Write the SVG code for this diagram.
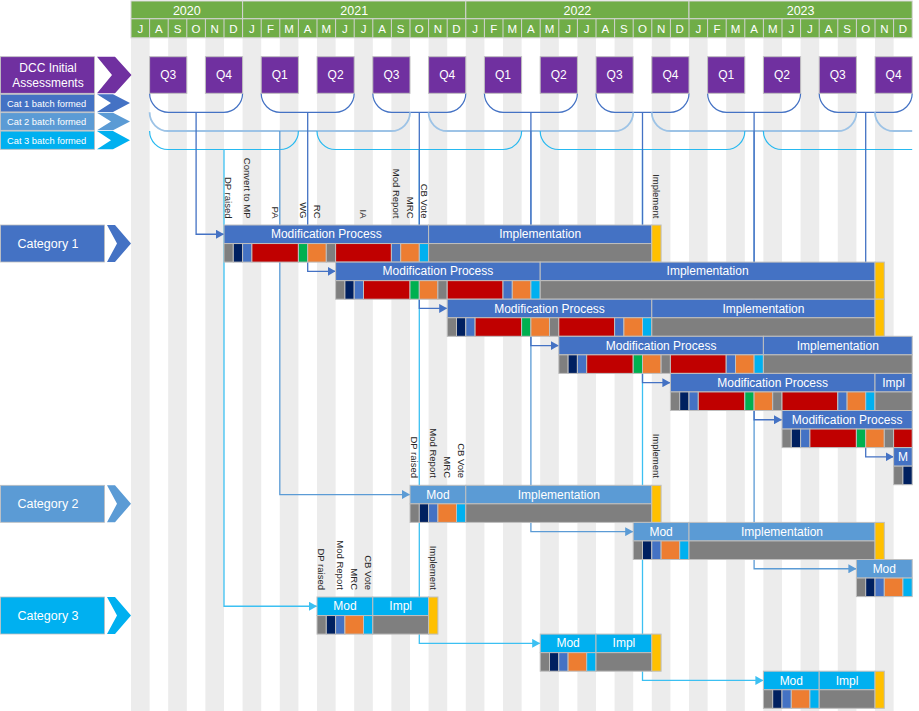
<svg xmlns="http://www.w3.org/2000/svg" width="919" height="711" viewBox="0 0 919 711">
<style>
text{font-family:"Liberation Sans",Arial,sans-serif}
.st{fill:#ececec}
.hd{fill:#70AD47;stroke:#d4d4d4;stroke-width:1}
.ht{fill:#fff;font-size:11.5px;text-anchor:middle}
.yt{fill:#fff;font-size:12.5px;text-anchor:middle}
.q{fill:#7030A0;stroke:#bfbfbf;stroke-width:1}
.qt{fill:#fff;font-size:12px;text-anchor:middle}
.s{stroke:#bfbfbf;stroke-width:1}
.gy{fill:#7f7f7f}.nv{fill:#002060}.bl{fill:#4472C4}.rd{fill:#C00000}.gn{fill:#00B050}.or{fill:#ED7D31}.cy{fill:#00B0F0}.ye{fill:#FFC000}
.t1{fill:#4472C4}.t2{fill:#5B9BD5}.t3{fill:#00B0F0}
.bt{fill:#fff;font-size:12px;text-anchor:middle}
.vl{fill:#262626;font-size:9.5px;text-anchor:end}
.lt{fill:#fff;font-size:9.3px}
.ct{fill:#fff;font-size:12.5px;text-anchor:middle}
.k1{fill:none;stroke:#4472C4;stroke-width:1.2}
.k2{fill:none;stroke:#9DC3E6;stroke-width:1.8}
.k3{fill:none;stroke:#27B9F0;stroke-width:1.2}
.c1{fill:none;stroke:#4472C4;stroke-width:1.3}
.c2{fill:none;stroke:#5B9BD5;stroke-width:1.3}
.c3{fill:none;stroke:#3CC0F2;stroke-width:1.3}
</style>
<defs>
<marker id="a1" viewBox="0 0 8 9" refX="8" refY="4.5" markerWidth="8" markerHeight="9" markerUnits="userSpaceOnUse" orient="auto"><path d="M0,0 L8,4.5 L0,9 z" fill="#4472C4"/></marker>
<marker id="a2" viewBox="0 0 8 9" refX="8" refY="4.5" markerWidth="8" markerHeight="9" markerUnits="userSpaceOnUse" orient="auto"><path d="M0,0 L8,4.5 L0,9 z" fill="#5B9BD5"/></marker>
<marker id="a3" viewBox="0 0 8 9" refX="8" refY="4.5" markerWidth="8" markerHeight="9" markerUnits="userSpaceOnUse" orient="auto"><path d="M0,0 L8,4.5 L0,9 z" fill="#3CC0F2"/></marker>
</defs>
<rect x="0" y="0" width="919" height="711" fill="#fff"/>
<g id="stripes">
<rect class="st" x="131" y="38" width="18.6" height="673"/><rect class="st" x="168.2" y="38" width="18.6" height="673"/><rect class="st" x="205.4" y="38" width="18.6" height="673"/><rect class="st" x="242.6" y="38" width="18.6" height="673"/><rect class="st" x="279.8" y="38" width="18.6" height="673"/><rect class="st" x="317" y="38" width="18.6" height="673"/><rect class="st" x="354.2" y="38" width="18.6" height="673"/><rect class="st" x="391.4" y="38" width="18.6" height="673"/><rect class="st" x="428.6" y="38" width="18.6" height="673"/><rect class="st" x="465.8" y="38" width="18.6" height="673"/><rect class="st" x="503" y="38" width="18.6" height="673"/><rect class="st" x="540.2" y="38" width="18.6" height="673"/><rect class="st" x="577.4" y="38" width="18.6" height="673"/><rect class="st" x="614.6" y="38" width="18.6" height="673"/><rect class="st" x="651.8" y="38" width="18.6" height="673"/><rect class="st" x="689" y="38" width="18.6" height="673"/><rect class="st" x="726.2" y="38" width="18.6" height="673"/><rect class="st" x="763.4" y="38" width="18.6" height="673"/><rect class="st" x="800.6" y="38" width="18.6" height="673"/><rect class="st" x="837.8" y="38" width="18.6" height="673"/><rect class="st" x="875" y="38" width="18.6" height="673"/>
</g>
<g id="header">
<rect class="hd" x="131" y="1" width="111.6" height="17.8"/><rect class="hd" x="242.6" y="1" width="223.2" height="17.8"/><rect class="hd" x="465.8" y="1" width="223.2" height="17.8"/><rect class="hd" x="689" y="1" width="223.2" height="17.8"/>
<text class="yt" x="186.8" y="15">2020</text><text class="yt" x="354.2" y="15">2021</text><text class="yt" x="577.4" y="15">2022</text><text class="yt" x="800.6" y="15">2023</text>
<rect class="hd" x="131" y="18.8" width="781.2" height="19"/>
<path d="M149.6,18.8V37.8M168.2,18.8V37.8M186.8,18.8V37.8M205.4,18.8V37.8M224,18.8V37.8M242.6,18.8V37.8M261.2,18.8V37.8M279.8,18.8V37.8M298.4,18.8V37.8M317,18.8V37.8M335.6,18.8V37.8M354.2,18.8V37.8M372.8,18.8V37.8M391.4,18.8V37.8M410,18.8V37.8M428.6,18.8V37.8M447.2,18.8V37.8M465.8,18.8V37.8M484.4,18.8V37.8M503,18.8V37.8M521.6,18.8V37.8M540.2,18.8V37.8M558.8,18.8V37.8M577.4,18.8V37.8M596,18.8V37.8M614.6,18.8V37.8M633.2,18.8V37.8M651.8,18.8V37.8M670.4,18.8V37.8M689,18.8V37.8M707.6,18.8V37.8M726.2,18.8V37.8M744.8,18.8V37.8M763.4,18.8V37.8M782,18.8V37.8M800.6,18.8V37.8M819.2,18.8V37.8M837.8,18.8V37.8M856.4,18.8V37.8M875,18.8V37.8M893.6,18.8V37.8" stroke="#d4d4d4" stroke-width="1" fill="none"/>
<text class="ht" x="140.3" y="33">J</text><text class="ht" x="158.9" y="33">A</text><text class="ht" x="177.5" y="33">S</text><text class="ht" x="196.1" y="33">O</text><text class="ht" x="214.7" y="33">N</text><text class="ht" x="233.3" y="33">D</text>
<text class="ht" x="251.9" y="33">J</text><text class="ht" x="270.5" y="33">F</text><text class="ht" x="289.1" y="33">M</text><text class="ht" x="307.7" y="33">A</text><text class="ht" x="326.3" y="33">M</text><text class="ht" x="344.9" y="33">J</text><text class="ht" x="363.5" y="33">J</text><text class="ht" x="382.1" y="33">A</text><text class="ht" x="400.7" y="33">S</text><text class="ht" x="419.3" y="33">O</text><text class="ht" x="437.9" y="33">N</text><text class="ht" x="456.5" y="33">D</text>
<text class="ht" x="475.1" y="33">J</text><text class="ht" x="493.7" y="33">F</text><text class="ht" x="512.3" y="33">M</text><text class="ht" x="530.9" y="33">A</text><text class="ht" x="549.5" y="33">M</text><text class="ht" x="568.1" y="33">J</text><text class="ht" x="586.7" y="33">J</text><text class="ht" x="605.3" y="33">A</text><text class="ht" x="623.9" y="33">S</text><text class="ht" x="642.5" y="33">O</text><text class="ht" x="661.1" y="33">N</text><text class="ht" x="679.7" y="33">D</text>
<text class="ht" x="698.3" y="33">J</text><text class="ht" x="716.9" y="33">F</text><text class="ht" x="735.5" y="33">M</text><text class="ht" x="754.1" y="33">A</text><text class="ht" x="772.7" y="33">M</text><text class="ht" x="791.3" y="33">J</text><text class="ht" x="809.9" y="33">J</text><text class="ht" x="828.5" y="33">A</text><text class="ht" x="847.1" y="33">S</text><text class="ht" x="865.7" y="33">O</text><text class="ht" x="884.3" y="33">N</text><text class="ht" x="902.9" y="33">D</text>
</g>
<g id="legend-dcc">
<rect x="0.5" y="56.7" width="94" height="36.6" fill="#7030A0" stroke="#bfbfbf" stroke-width="0.8"/>
<polygon points="97,56.7 115,56.7 131.5,75 115,93.3 97,93.3 112,75" fill="#7030A0"/>
<text class="ct" x="48" y="72" style="font-size:12px">DCC Initial</text>
<text class="ct" x="48" y="87" style="font-size:12px">Assessments</text>
</g>
<g id="legend-cat1">
<rect x="0.5" y="94.3" width="94" height="17.6" fill="#4472C4" stroke="#bfbfbf" stroke-width="0.8"/>
<polygon points="97,94.3 113,94.3 130,103.1 113,111.9 97,111.9 111,103.1" fill="#4472C4"/>
<text class="lt" x="7" y="106.5">Cat 1 batch formed</text>
</g>
<g id="legend-cat2">
<rect x="0.5" y="112.7" width="94" height="17.6" fill="#5B9BD5" stroke="#bfbfbf" stroke-width="0.8"/>
<polygon points="97,112.7 113,112.7 130,121.5 113,130.3 97,130.3 111,121.5" fill="#5B9BD5"/>
<text class="lt" x="7" y="125">Cat 2 batch formed</text>
</g>
<g id="legend-cat3">
<rect x="0.5" y="131.1" width="94" height="18.2" fill="#00B0F0" stroke="#bfbfbf" stroke-width="0.8"/>
<polygon points="97,131.1 113,131.1 130,140.2 113,149.3 97,149.3 111,140.2" fill="#00B0F0"/>
<text class="lt" x="7" y="143.5">Cat 3 batch formed</text>
</g>
<g id="label-category1">
<rect x="0.5" y="225" width="104" height="37" fill="#4472C4" stroke="#bfbfbf" stroke-width="0.8"/>
<polygon points="107,225 115,225 131,243.5 115,262 107,262 117,243.5" fill="#4472C4"/>
<text class="ct" x="48" y="248">Category 1</text>
</g>
<g id="label-category2">
<rect x="0.5" y="485.3" width="104" height="37" fill="#5B9BD5" stroke="#bfbfbf" stroke-width="0.8"/>
<polygon points="107,485.3 115,485.3 131,503.8 115,522.3 107,522.3 117,503.8" fill="#5B9BD5"/>
<text class="ct" x="48" y="508.3">Category 2</text>
</g>
<g id="label-category3">
<rect x="0.5" y="597" width="104" height="37" fill="#00B0F0" stroke="#bfbfbf" stroke-width="0.8"/>
<polygon points="107,597 115,597 131,615.5 115,634 107,634 117,615.5" fill="#00B0F0"/>
<text class="ct" x="48" y="620">Category 3</text>
</g>
<g id="connectors">
<path class="k1" d="M149.6,93.3A19,19 0 0 0 168.6,112.3H223.6A19,19 0 0 0 242.6,93.3"/>
<path class="k1" d="M261.2,93.3A19,19 0 0 0 280.2,112.3H335.2A19,19 0 0 0 354.2,93.3"/>
<path class="k1" d="M372.8,93.3A19,19 0 0 0 391.8,112.3H446.8A19,19 0 0 0 465.8,93.3"/>
<path class="k1" d="M484.4,93.3A19,19 0 0 0 503.4,112.3H558.4A19,19 0 0 0 577.4,93.3"/>
<path class="k1" d="M596,93.3A19,19 0 0 0 615,112.3H670A19,19 0 0 0 689,93.3"/>
<path class="k1" d="M707.6,93.3A19,19 0 0 0 726.6,112.3H781.6A19,19 0 0 0 800.6,93.3"/>
<path class="k1" d="M819.2,93.3A19,19 0 0 0 838.2,112.3H893.2A19,19 0 0 0 912.2,93.3"/>
<path class="k2" d="M149.6,112.3A18.7,18.7 0 0 0 168.3,131H391.3A18.7,18.7 0 0 0 410,112.3"/>
<path class="k2" d="M428.6,112.3A18.7,18.7 0 0 0 447.3,131H614.5A18.7,18.7 0 0 0 633.2,112.3"/>
<path class="k2" d="M651.8,112.3A18.7,18.7 0 0 0 670.5,131H837.7A18.7,18.7 0 0 0 856.4,112.3"/>
<path class="k2" d="M875,112.3A18.7,18.7 0 0 0 893.7,131H912.2"/>
<path class="k3" d="M149.6,131A18.5,18.5 0 0 0 168.1,149.5H279.9A18.5,18.5 0 0 0 298.4,131"/>
<path class="k3" d="M317,131A18.5,18.5 0 0 0 335.5,149.5H503.1A18.5,18.5 0 0 0 521.6,131"/>
<path class="k3" d="M540.2,131A18.5,18.5 0 0 0 558.7,149.5H726.3A18.5,18.5 0 0 0 744.8,131"/>
<path class="k3" d="M763.4,131A18.5,18.5 0 0 0 781.9,149.5H912.2"/>
<path class="c3" marker-end="url(#a3)" d="M224,149.5V606.25H317"/>
<path class="c3" marker-end="url(#a3)" d="M419.3,149.5V643.35H540.2"/>
<path class="c3" marker-end="url(#a3)" d="M642.5,149.5V680.45H763.4"/>
<path class="c2" marker-end="url(#a2)" d="M279.8,131V494.55H410"/>
<path class="c2" marker-end="url(#a2)" d="M530.9,131V531.65H633.2"/>
<path class="c2" marker-end="url(#a2)" d="M754.1,131V568.75H856.4"/>
<path class="c1" marker-end="url(#a1)" d="M196.1,112.3V234.25H224"/>
<path class="c1" marker-end="url(#a1)" d="M307.7,112.3V271.35H335.6"/>
<path class="c1" marker-end="url(#a1)" d="M419.3,112.3V308.45H447.2"/>
<path class="c1" marker-end="url(#a1)" d="M530.9,112.3V345.55H558.8"/>
<path class="c1" marker-end="url(#a1)" d="M642.5,112.3V382.65H670.4"/>
<path class="c1" marker-end="url(#a1)" d="M754.1,112.3V419.75H782"/>
<path class="c1" marker-end="url(#a1)" d="M865.7,112.3V456.85H893.6"/>
</g>
<g id="quarters">
<rect class="q" x="149.6" y="56.7" width="37.2" height="36.6"/><text class="qt" x="168.2" y="79.3">Q3</text>
<rect class="q" x="205.4" y="56.7" width="37.2" height="36.6"/><text class="qt" x="224" y="79.3">Q4</text>
<rect class="q" x="261.2" y="56.7" width="37.2" height="36.6"/><text class="qt" x="279.8" y="79.3">Q1</text>
<rect class="q" x="317" y="56.7" width="37.2" height="36.6"/><text class="qt" x="335.6" y="79.3">Q2</text>
<rect class="q" x="372.8" y="56.7" width="37.2" height="36.6"/><text class="qt" x="391.4" y="79.3">Q3</text>
<rect class="q" x="428.6" y="56.7" width="37.2" height="36.6"/><text class="qt" x="447.2" y="79.3">Q4</text>
<rect class="q" x="484.4" y="56.7" width="37.2" height="36.6"/><text class="qt" x="503" y="79.3">Q1</text>
<rect class="q" x="540.2" y="56.7" width="37.2" height="36.6"/><text class="qt" x="558.8" y="79.3">Q2</text>
<rect class="q" x="596" y="56.7" width="37.2" height="36.6"/><text class="qt" x="614.6" y="79.3">Q3</text>
<rect class="q" x="651.8" y="56.7" width="37.2" height="36.6"/><text class="qt" x="670.4" y="79.3">Q4</text>
<rect class="q" x="707.6" y="56.7" width="37.2" height="36.6"/><text class="qt" x="726.2" y="79.3">Q1</text>
<rect class="q" x="763.4" y="56.7" width="37.2" height="36.6"/><text class="qt" x="782" y="79.3">Q2</text>
<rect class="q" x="819.2" y="56.7" width="37.2" height="36.6"/><text class="qt" x="837.8" y="79.3">Q3</text>
<rect class="q" x="875" y="56.7" width="37.2" height="36.6"/><text class="qt" x="893.6" y="79.3">Q4</text>
</g>
<g id="cat1-bar1">
<rect class="s t1" x="224" y="225" width="204.6" height="18.55"/><rect class="s t1" x="428.6" y="225" width="223.2" height="18.55"/>
<rect class="s gy" x="224" y="243.55" width="9.3" height="18.55"/><rect class="s nv" x="233.3" y="243.55" width="9.3" height="18.55"/><rect class="s bl" x="242.6" y="243.55" width="9.3" height="18.55"/><rect class="s rd" x="251.9" y="243.55" width="46.5" height="18.55"/><rect class="s gn" x="298.4" y="243.55" width="9.3" height="18.55"/><rect class="s or" x="307.7" y="243.55" width="18.6" height="18.55"/><rect class="s gy" x="326.3" y="243.55" width="9.3" height="18.55"/><rect class="s rd" x="335.6" y="243.55" width="55.8" height="18.55"/><rect class="s bl" x="391.4" y="243.55" width="9.3" height="18.55"/><rect class="s or" x="400.7" y="243.55" width="18.6" height="18.55"/><rect class="s cy" x="419.3" y="243.55" width="9.3" height="18.55"/><rect class="s gy" x="428.6" y="243.55" width="223.2" height="18.55"/>
<rect class="s ye" x="651.8" y="225" width="9.3" height="37.1"/>
<text class="bt" x="326.3" y="238.3">Modification Process</text><text class="bt" x="540.2" y="238.3">Implementation</text>
</g>
<g id="cat1-bar2">
<rect class="s t1" x="335.6" y="262.1" width="204.6" height="18.55"/><rect class="s t1" x="540.2" y="262.1" width="334.8" height="18.55"/>
<rect class="s gy" x="335.6" y="280.65" width="9.3" height="18.55"/><rect class="s nv" x="344.9" y="280.65" width="9.3" height="18.55"/><rect class="s bl" x="354.2" y="280.65" width="9.3" height="18.55"/><rect class="s rd" x="363.5" y="280.65" width="46.5" height="18.55"/><rect class="s gn" x="410" y="280.65" width="9.3" height="18.55"/><rect class="s or" x="419.3" y="280.65" width="18.6" height="18.55"/><rect class="s gy" x="437.9" y="280.65" width="9.3" height="18.55"/><rect class="s rd" x="447.2" y="280.65" width="55.8" height="18.55"/><rect class="s bl" x="503" y="280.65" width="9.3" height="18.55"/><rect class="s or" x="512.3" y="280.65" width="18.6" height="18.55"/><rect class="s cy" x="530.9" y="280.65" width="9.3" height="18.55"/><rect class="s gy" x="540.2" y="280.65" width="334.8" height="18.55"/>
<rect class="s ye" x="875" y="262.1" width="9.3" height="37.1"/>
<text class="bt" x="437.9" y="275.4">Modification Process</text><text class="bt" x="707.6" y="275.4">Implementation</text>
</g>
<g id="cat1-bar3">
<rect class="s t1" x="447.2" y="299.2" width="204.6" height="18.55"/><rect class="s t1" x="651.8" y="299.2" width="223.2" height="18.55"/>
<rect class="s gy" x="447.2" y="317.75" width="9.3" height="18.55"/><rect class="s nv" x="456.5" y="317.75" width="9.3" height="18.55"/><rect class="s bl" x="465.8" y="317.75" width="9.3" height="18.55"/><rect class="s rd" x="475.1" y="317.75" width="46.5" height="18.55"/><rect class="s gn" x="521.6" y="317.75" width="9.3" height="18.55"/><rect class="s or" x="530.9" y="317.75" width="18.6" height="18.55"/><rect class="s gy" x="549.5" y="317.75" width="9.3" height="18.55"/><rect class="s rd" x="558.8" y="317.75" width="55.8" height="18.55"/><rect class="s bl" x="614.6" y="317.75" width="9.3" height="18.55"/><rect class="s or" x="623.9" y="317.75" width="18.6" height="18.55"/><rect class="s cy" x="642.5" y="317.75" width="9.3" height="18.55"/><rect class="s gy" x="651.8" y="317.75" width="223.2" height="18.55"/>
<rect class="s ye" x="875" y="299.2" width="9.3" height="37.1"/>
<text class="bt" x="549.5" y="312.5">Modification Process</text><text class="bt" x="763.4" y="312.5">Implementation</text>
</g>
<g id="cat1-bar4">
<rect class="s t1" x="558.8" y="336.3" width="204.6" height="18.55"/><rect class="s t1" x="763.4" y="336.3" width="148.8" height="18.55"/>
<rect class="s gy" x="558.8" y="354.85" width="9.3" height="18.55"/><rect class="s nv" x="568.1" y="354.85" width="9.3" height="18.55"/><rect class="s bl" x="577.4" y="354.85" width="9.3" height="18.55"/><rect class="s rd" x="586.7" y="354.85" width="46.5" height="18.55"/><rect class="s gn" x="633.2" y="354.85" width="9.3" height="18.55"/><rect class="s or" x="642.5" y="354.85" width="18.6" height="18.55"/><rect class="s gy" x="661.1" y="354.85" width="9.3" height="18.55"/><rect class="s rd" x="670.4" y="354.85" width="55.8" height="18.55"/><rect class="s bl" x="726.2" y="354.85" width="9.3" height="18.55"/><rect class="s or" x="735.5" y="354.85" width="18.6" height="18.55"/><rect class="s cy" x="754.1" y="354.85" width="9.3" height="18.55"/><rect class="s gy" x="763.4" y="354.85" width="148.8" height="18.55"/>
<text class="bt" x="661.1" y="349.6">Modification Process</text><text class="bt" x="837.8" y="349.6">Implementation</text>
</g>
<g id="cat1-bar5">
<rect class="s t1" x="670.4" y="373.4" width="204.6" height="18.55"/><rect class="s t1" x="875" y="373.4" width="37.2" height="18.55"/>
<rect class="s gy" x="670.4" y="391.95" width="9.3" height="18.55"/><rect class="s nv" x="679.7" y="391.95" width="9.3" height="18.55"/><rect class="s bl" x="689" y="391.95" width="9.3" height="18.55"/><rect class="s rd" x="698.3" y="391.95" width="46.5" height="18.55"/><rect class="s gn" x="744.8" y="391.95" width="9.3" height="18.55"/><rect class="s or" x="754.1" y="391.95" width="18.6" height="18.55"/><rect class="s gy" x="772.7" y="391.95" width="9.3" height="18.55"/><rect class="s rd" x="782" y="391.95" width="55.8" height="18.55"/><rect class="s bl" x="837.8" y="391.95" width="9.3" height="18.55"/><rect class="s or" x="847.1" y="391.95" width="18.6" height="18.55"/><rect class="s cy" x="865.7" y="391.95" width="9.3" height="18.55"/><rect class="s gy" x="875" y="391.95" width="37.2" height="18.55"/>
<text class="bt" x="772.7" y="386.7">Modification Process</text><text class="bt" x="893.6" y="386.7">Impl</text>
</g>
<g id="cat1-bar6">
<rect class="s t1" x="782" y="410.5" width="130.2" height="18.55"/>
<rect class="s gy" x="782" y="429.05" width="9.3" height="18.55"/><rect class="s nv" x="791.3" y="429.05" width="9.3" height="18.55"/><rect class="s bl" x="800.6" y="429.05" width="9.3" height="18.55"/><rect class="s rd" x="809.9" y="429.05" width="46.5" height="18.55"/><rect class="s gn" x="856.4" y="429.05" width="9.3" height="18.55"/><rect class="s or" x="865.7" y="429.05" width="18.6" height="18.55"/><rect class="s gy" x="884.3" y="429.05" width="9.3" height="18.55"/><rect class="s rd" x="893.6" y="429.05" width="18.6" height="18.55"/>
<text class="bt" x="847.1" y="423.8">Modification Process</text>
</g>
<g id="cat1-bar7">
<rect class="s t1" x="893.6" y="447.6" width="18.6" height="18.55"/>
<rect class="s gy" x="893.6" y="466.15" width="9.3" height="18.55"/><rect class="s nv" x="902.9" y="466.15" width="9.3" height="18.55"/>
<text class="bt" x="902.9" y="460.9">M</text>
</g>
<g id="cat2-bar1">
<rect class="s t2" x="410" y="485.3" width="55.8" height="18.55"/><rect class="s t2" x="465.8" y="485.3" width="186" height="18.55"/>
<rect class="s gy" x="410" y="503.85" width="9.3" height="18.55"/><rect class="s nv" x="419.3" y="503.85" width="9.3" height="18.55"/><rect class="s bl" x="428.6" y="503.85" width="9.3" height="18.55"/><rect class="s or" x="437.9" y="503.85" width="18.6" height="18.55"/><rect class="s cy" x="456.5" y="503.85" width="9.3" height="18.55"/><rect class="s gy" x="465.8" y="503.85" width="186" height="18.55"/>
<rect class="s ye" x="651.8" y="485.3" width="9.3" height="37.1"/>
<text class="bt" x="437.9" y="498.6">Mod</text><text class="bt" x="558.8" y="498.6">Implementation</text>
</g>
<g id="cat2-bar2">
<rect class="s t2" x="633.2" y="522.4" width="55.8" height="18.55"/><rect class="s t2" x="689" y="522.4" width="186" height="18.55"/>
<rect class="s gy" x="633.2" y="540.95" width="9.3" height="18.55"/><rect class="s nv" x="642.5" y="540.95" width="9.3" height="18.55"/><rect class="s bl" x="651.8" y="540.95" width="9.3" height="18.55"/><rect class="s or" x="661.1" y="540.95" width="18.6" height="18.55"/><rect class="s cy" x="679.7" y="540.95" width="9.3" height="18.55"/><rect class="s gy" x="689" y="540.95" width="186" height="18.55"/>
<rect class="s ye" x="875" y="522.4" width="9.3" height="37.1"/>
<text class="bt" x="661.1" y="535.7">Mod</text><text class="bt" x="782" y="535.7">Implementation</text>
</g>
<g id="cat2-bar3">
<rect class="s t2" x="856.4" y="559.5" width="55.8" height="18.55"/>
<rect class="s gy" x="856.4" y="578.05" width="9.3" height="18.55"/><rect class="s nv" x="865.7" y="578.05" width="9.3" height="18.55"/><rect class="s bl" x="875" y="578.05" width="9.3" height="18.55"/><rect class="s or" x="884.3" y="578.05" width="18.6" height="18.55"/><rect class="s cy" x="902.9" y="578.05" width="9.3" height="18.55"/>
<text class="bt" x="884.3" y="572.8">Mod</text>
</g>
<g id="cat3-bar1">
<rect class="s t3" x="317" y="597" width="55.8" height="18.55"/><rect class="s t3" x="372.8" y="597" width="55.8" height="18.55"/>
<rect class="s gy" x="317" y="615.55" width="9.3" height="18.55"/><rect class="s nv" x="326.3" y="615.55" width="9.3" height="18.55"/><rect class="s bl" x="335.6" y="615.55" width="9.3" height="18.55"/><rect class="s or" x="344.9" y="615.55" width="18.6" height="18.55"/><rect class="s cy" x="363.5" y="615.55" width="9.3" height="18.55"/><rect class="s gy" x="372.8" y="615.55" width="55.8" height="18.55"/>
<rect class="s ye" x="428.6" y="597" width="9.3" height="37.1"/>
<text class="bt" x="344.9" y="610.3">Mod</text><text class="bt" x="400.7" y="610.3">Impl</text>
</g>
<g id="cat3-bar2">
<rect class="s t3" x="540.2" y="634.1" width="55.8" height="18.55"/><rect class="s t3" x="596" y="634.1" width="55.8" height="18.55"/>
<rect class="s gy" x="540.2" y="652.65" width="9.3" height="18.55"/><rect class="s nv" x="549.5" y="652.65" width="9.3" height="18.55"/><rect class="s bl" x="558.8" y="652.65" width="9.3" height="18.55"/><rect class="s or" x="568.1" y="652.65" width="18.6" height="18.55"/><rect class="s cy" x="586.7" y="652.65" width="9.3" height="18.55"/><rect class="s gy" x="596" y="652.65" width="55.8" height="18.55"/>
<rect class="s ye" x="651.8" y="634.1" width="9.3" height="37.1"/>
<text class="bt" x="568.1" y="647.4">Mod</text><text class="bt" x="623.9" y="647.4">Impl</text>
</g>
<g id="cat3-bar3">
<rect class="s t3" x="763.4" y="671.2" width="55.8" height="18.55"/><rect class="s t3" x="819.2" y="671.2" width="55.8" height="18.55"/>
<rect class="s gy" x="763.4" y="689.75" width="9.3" height="18.55"/><rect class="s nv" x="772.7" y="689.75" width="9.3" height="18.55"/><rect class="s bl" x="782" y="689.75" width="9.3" height="18.55"/><rect class="s or" x="791.3" y="689.75" width="18.6" height="18.55"/><rect class="s cy" x="809.9" y="689.75" width="9.3" height="18.55"/><rect class="s gy" x="819.2" y="689.75" width="55.8" height="18.55"/>
<rect class="s ye" x="875" y="671.2" width="9.3" height="37.1"/>
<text class="bt" x="791.3" y="684.5">Mod</text><text class="bt" x="847.1" y="684.5">Impl</text>
</g>
<g id="milestone-labels">
<text class="vl" dy="0.35em" transform="translate(228.65,218.5) rotate(90)">DP raised</text>
<text class="vl" dy="0.35em" transform="translate(247.25,218.5) rotate(90)">Convert to MP</text>
<text class="vl" dy="0.35em" transform="translate(275.15,218.5) rotate(90)">PA</text>
<text class="vl" dy="0.35em" transform="translate(303.05,218.5) rotate(90)">WG</text>
<text class="vl" dy="0.35em" transform="translate(317,218.5) rotate(90)">RC</text>
<text class="vl" dy="0.35em" transform="translate(363.5,218.5) rotate(90)">IA</text>
<text class="vl" dy="0.35em" transform="translate(396.05,218.5) rotate(90)">Mod Report</text>
<text class="vl" dy="0.35em" transform="translate(410,218.5) rotate(90)">MRC</text>
<text class="vl" dy="0.35em" transform="translate(423.95,218.5) rotate(90)">CB Vote</text>
<text class="vl" dy="0.35em" transform="translate(656.45,218.5) rotate(90)">Implement</text>
<text class="vl" dy="0.35em" transform="translate(414.65,478) rotate(90)">DP raised</text>
<text class="vl" dy="0.35em" transform="translate(433.25,478) rotate(90)">Mod Report</text>
<text class="vl" dy="0.35em" transform="translate(447.2,478) rotate(90)">MRC</text>
<text class="vl" dy="0.35em" transform="translate(461.15,478) rotate(90)">CB Vote</text>
<text class="vl" dy="0.35em" transform="translate(656.45,478) rotate(90)">Implement</text>
<text class="vl" dy="0.35em" transform="translate(321.65,590) rotate(90)">DP raised</text>
<text class="vl" dy="0.35em" transform="translate(340.25,590) rotate(90)">Mod Report</text>
<text class="vl" dy="0.35em" transform="translate(354.2,590) rotate(90)">MRC</text>
<text class="vl" dy="0.35em" transform="translate(368.15,590) rotate(90)">CB Vote</text>
<text class="vl" dy="0.35em" transform="translate(433.25,590) rotate(90)">Implement</text>
</g>
</svg>
